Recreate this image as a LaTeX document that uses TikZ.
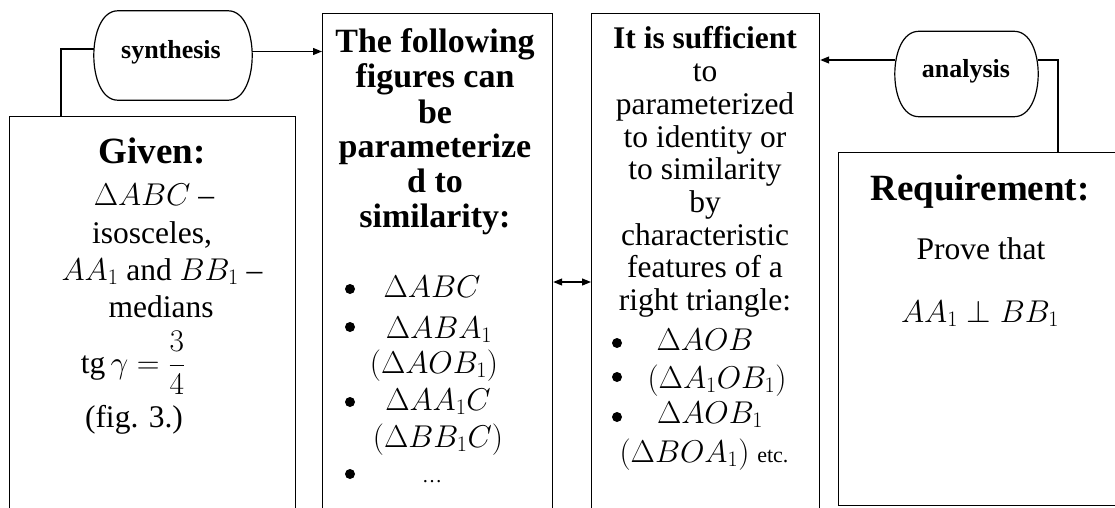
\RequirePackage{fix-cm}
\documentclass[tikz,border=0pt]{standalone}
\usepackage{fontspec}
\setmainfont{Liberation Serif}
\usetikzlibrary{arrows.meta}
\begin{document}
\begin{tikzpicture}[x=1pt,y=-1pt,
  box/.style={draw, line width=1.2pt, inner sep=0pt, anchor=north west},
  term/.style={inner sep=0pt, font=\fontsize{26}{28}\selectfont\bfseries},
  tx/.style={anchor=base, inner sep=0pt, font=\fontsize{31.5}{33}\selectfont},
  hb/.style={anchor=base, inner sep=0pt, font=\fontsize{34}{36}\selectfont\bfseries},
  hbig/.style={anchor=base, inner sep=0pt, font=\fontsize{37}{40}\selectfont\bfseries},
  hsm/.style={anchor=base, inner sep=0pt, font=\fontsize{31.5}{33}\selectfont\bfseries},
  conn/.style={line width=1.2pt},
  arr/.style={conn, -{Triangle[length=9pt,width=7pt]}},
  darr/.style={conn, {Triangle[length=9pt,width=7pt]}-{Triangle[length=9pt,width=7pt]}},
]
\clip (0,0) rectangle (1115,508);

% boxes
\node[box, minimum width=286pt, minimum height=414pt] (given) at (9,116) {};
\node[box, minimum width=230pt, minimum height=517pt] (sim) at (322,13) {};
\node[box, minimum width=228pt, minimum height=517pt] (suf) at (591,13) {};
\node[box, minimum width=290pt, minimum height=353pt] (req) at (838,152) {};

% terminators
\node[term, minimum width=158pt, minimum height=89pt] (syn) at (173,55.5) {};
\node[term, anchor=base] at (171,59) {synthesis};
\node[term, minimum width=143pt, minimum height=85pt] (ana) at (966.5,74) {};
\node[term, anchor=base] at (966,78) {analysis};
\foreach \n in {syn,ana}{
\draw[conn] ([xshift=24pt]\n.north west) -- ([xshift=-24pt]\n.north east)
  .. controls ([xshift=8pt]\n.north east) and ([xshift=8pt]\n.south east) .. ([xshift=-24pt]\n.south east)
  -- ([xshift=24pt]\n.south west)
  .. controls ([xshift=-8pt]\n.south west) and ([xshift=-8pt]\n.north west) .. cycle;
}

% connectors
\draw[conn] ([xshift=52pt]given.north west) |- ([yshift=6.5pt]syn.west);
\coordinate (a1) at ([yshift=4pt]syn.east);
\draw[arr] (a1) -- (a1 -| sim.west);
\coordinate (a2) at ([yshift=14pt]ana.west);
\draw[arr] (a2) -- (a2 -| suf.east);
\coordinate (a3) at ([yshift=14pt]ana.east);
\draw[conn] (a3) -| ([xshift=220pt]req.north west);
\coordinate (d1) at (sim.east |- 0,282);
\draw[darr] (d1) -- (d1 -| suf.west);

% Given box
\node[hbig] at (152,163) {Given:};
\node[tx] at (154,205) {$\Delta ABC$ –};
\node[tx] at (152,243) {isosceles,};
\node[tx] at (162,280) {$AA_1$ and $BB_1$ –};
\node[tx] at (161,317) {medians};
\node[tx] at (133,373) {tg$\,\gamma=\displaystyle\frac{3}{4}$};
\node[tx] at (134,427) {(fig. 3.)};

% similarity box
\node[hb] at (435,53) {The following};
\node[hb] at (435,88) {figures can};
\node[hb] at (435,123) {be};
\node[hb] at (435,157) {parameterize};
\node[hb] at (435,192) {d to};
\node[hb] at (435,227) {similarity:};
\foreach \y in {289,327,402,474} \fill (350,\y) circle (5pt);
\node[tx] at (432,297) {$\Delta ABC$};
\node[tx] at (439,338) {$\Delta ABA_1$};
\node[tx] at (434,373) {$(\Delta AOB_1)$};
\node[tx] at (438,410) {$\Delta AA_1C$};
\node[tx] at (438,447) {$(\Delta BB_1C)$};
\node[tx, font=\fontsize{20}{22}\selectfont] at (432,482) {…};

% sufficient box
\node[hsm] at (705,49) {It is sufficient};
\node[tx] at (705,82) {to};
\node[tx] at (705,114.6) {parameterized};
\node[tx] at (705,147.2) {to identity or};
\node[tx] at (705,179.8) {to similarity};
\node[tx] at (705,212.4) {by};
\node[tx] at (705,245) {characteristic};
\node[tx] at (705,277.6) {features of a};
\node[tx] at (705,310.2) {right triangle:};
\foreach \y in {343,377,417} \fill (617,\y) circle (5pt);
\node[tx] at (705,350) {$\Delta AOB$};
\node[tx] at (717,388) {$(\Delta A_1OB_1)$};
\node[tx] at (710,423) {$\Delta AOB_1$};
\node[tx] at (704,462) {$(\Delta BOA_1)$ {\fontsize{22}{24}\selectfont etc.}};

% requirement box
\node[hbig] at (980,200) {Requirement:};
\node[tx] at (981,259) {Prove that};
\node[tx] at (980,322) {$AA_1\perp BB_1$};
\end{tikzpicture}
\end{document}
